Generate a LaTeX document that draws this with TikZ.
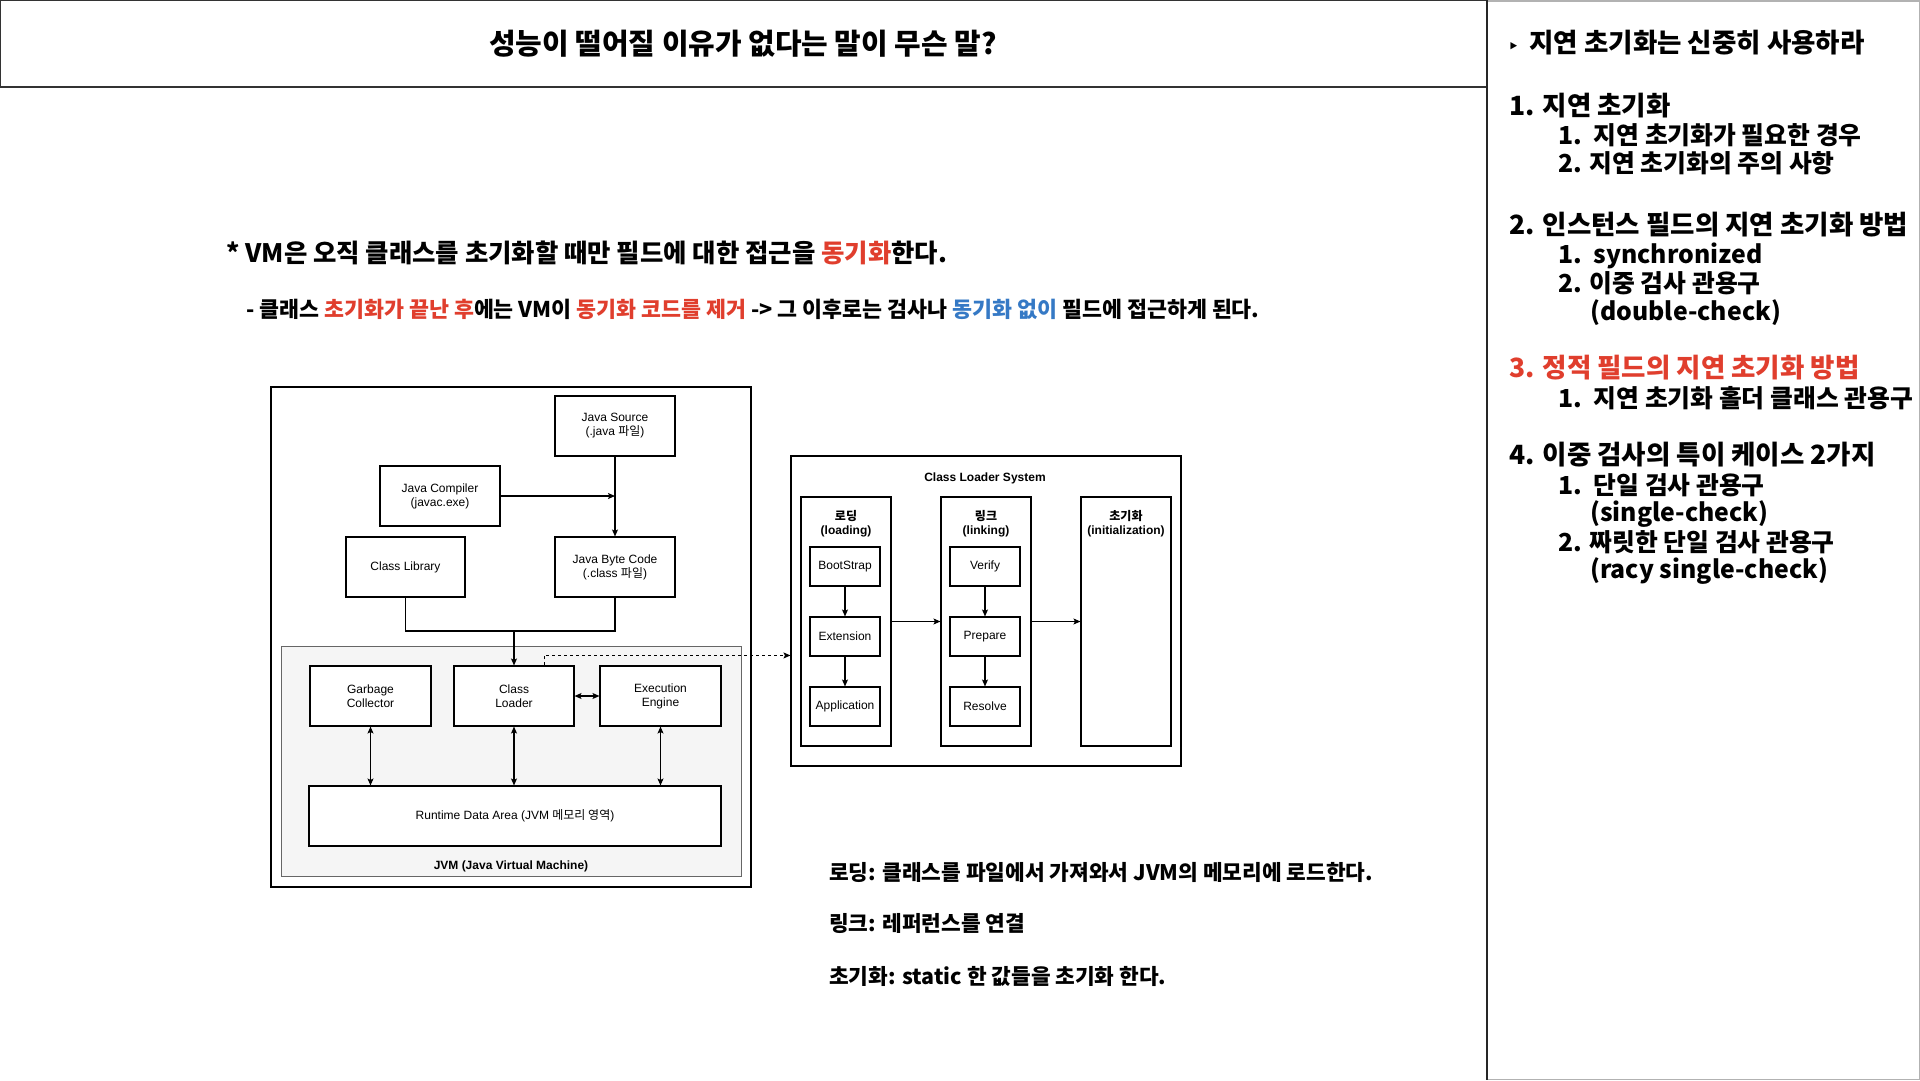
\documentclass[tikz,border=0pt]{standalone}
\usepackage{fontspec}
\setmainfont{Liberation Sans}
\newfontfamily\kr{Noto Sans CJK KR}
\newfontfamily\djv{DejaVu Sans}
\usetikzlibrary{arrows.meta,calc}
\newcommand\kor[1]{{\kr #1}}
\definecolor{redtxt}{RGB}{224,62,45}
\definecolor{bluetxt}{RGB}{53,121,197}
\definecolor{jvmfill}{RGB}{245,245,245}
\definecolor{jvmdraw}{RGB}{102,102,102}
\begin{document}
\begin{tikzpicture}[x=1pt,y=-1pt,
  tip/.style={-{Stealth[length=7pt,width=6pt,inset=1.5pt]}},
  bitip/.style={{Stealth[length=7pt,width=6pt,inset=1.5pt]}-{Stealth[length=7pt,width=6pt,inset=1.5pt]}},
  conn/.style={line width=1.1pt,black},
  box/.style={draw,line width=1.1pt,fill=white,inner sep=0pt,align=center,font=\fontsize{12}{14}\selectfont},
  frame/.style={draw,line width=1.1pt,inner sep=0pt},
  blabel/.style={inner sep=0pt,align=center,font=\bfseries\fontsize{12}{14}\selectfont},
  kbig/.style={inner sep=0pt,anchor=west,font=\kr\bfseries\fontsize{26.5}{31}\selectfont},
  ksub/.style={inner sep=0pt,anchor=west,font=\kr\bfseries\fontsize{24.8}{29}\selectfont},
  kmid/.style={inner sep=0pt,anchor=west,font=\kr\bfseries\fontsize{21.4}{26}\selectfont}
]
\useasboundingbox (0,0) rectangle (1920,1080);
\fill[white] (0,0) rectangle (1920,1080);

% title box and right panel
\node[draw=black!80,line width=1.5pt,minimum width=1487pt,minimum height=87pt,inner sep=0pt] (titlebox) at (743.5,43.5) {};
\node[font=\kr\bfseries\fontsize{28.9}{34}\selectfont,inner sep=0pt] (title) at (743,44) {성능이 떨어질 이유가 없다는 말이 무슨 말?};
\draw[black!30,line width=1.5pt] (1487,0.75) -- (1919.25,0.75) -- (1919.25,1079.25) -- (1487,1079.25);
\draw[black!85,line width=1.5pt] (1487,0) -- (1487,1080);

% explanation lines
\node[inner sep=0pt,anchor=west,font=\kr\bfseries\fontsize{25.4}{30}\selectfont] (l1) at (226,253) {* VM은 오직 클래스를 초기화할 때만 필드에 대한 접근을 \textcolor{redtxt}{동기화}한다.};
\node[inner sep=0pt,anchor=west,font=\kr\bfseries\fontsize{21.7}{26}\selectfont] (l2) at (246,309) {- 클래스 \textcolor{redtxt}{초기화가 끝난 후}에는 VM이 \textcolor{redtxt}{동기화 코드를 제거} -> 그 이후로는 검사나 \textcolor{bluetxt}{동기화 없이} 필드에 접근하게 된다.};

% left diagram
\node[frame,minimum width=480pt,minimum height=500pt] (outer) at (511,637) {};
\node[box] (src) at (615,426) [minimum width=120pt,minimum height=60pt] {Java Source\\(.java \kor{파일})};
\node[box] (comp) at (440,496) [minimum width=120pt,minimum height=60pt] {Java Compiler\\(javac.exe)};
\node[box] (lib) at (405.5,567) [minimum width=119pt,minimum height=60pt] {Class Library};
\node[box] (byte) at (615,567) [minimum width=120pt,minimum height=60pt] {Java Byte Code\\(.class \kor{파일})};

\node[draw=jvmdraw,fill=jvmfill,line width=1pt,minimum width=460pt,minimum height=230pt,inner sep=0pt] (jvm) at (511,761) {};
\node[blabel] (jvmlabel) at (511,866) {JVM (Java Virtual Machine)};
\node[box] (gc) at (370.5,696) [minimum width=121pt,minimum height=60pt] {Garbage\\Collector};
\node[box] (cl) at (514,696) [minimum width=120pt,minimum height=60pt] {Class\\Loader};
\node[box] (ee) at (660.5,696) [minimum width=121pt,minimum height=60pt] {Execution\\Engine};
\node[box] (rda) at (515,816) [minimum width=412pt,minimum height=60pt] {Runtime Data Area (JVM \kor{메모리 영역})};

\draw[conn,tip] (comp.east) -- (comp.east -| src.south);
\draw[conn,tip] (src.south) -- (byte.north);
\coordinate (join) at (cl.north |- 0,631);
\draw[conn] (lib.south) |- (join) -| (byte.south);
\draw[conn,tip] (join) -- (cl.north);
\draw[conn,bitip] (gc.south) -- (gc.south |- rda.north);
\draw[conn,bitip] (cl.south) -- (cl.south |- rda.north);
\draw[conn,bitip] (ee.south) -- (ee.south |- rda.north);
\draw[conn,bitip] (cl.east) -- (ee.west);

% class loader system
\node[frame,minimum width=390pt,minimum height=310pt] (cls) at (986,611) {};
\node[blabel] (clstitle) at (985,478) {Class Loader System};
\node[box,minimum width=90pt,minimum height=249pt] (load) at (846,621.5) {};
\node[box,minimum width=90pt,minimum height=249pt] (link) at (986,621.5) {};
\node[box,minimum width=90pt,minimum height=249pt] (init) at (1126,621.5) {};
\node[blabel] (loadlbl) at (846,524) {\kor{로딩}\\(loading)};
\node[blabel] (linklbl) at (986,524) {\kor{링크}\\(linking)};
\node[blabel] (initlbl) at (1126,524) {\kor{초기화}\\(initialization)};
\node[box,minimum width=70pt,minimum height=39pt] (bs) at (845,566.5) {BootStrap};
\node[box,minimum width=70pt,minimum height=39pt] (ext) at (845,636.5) {Extension};
\node[box,minimum width=70pt,minimum height=39pt] (app) at (845,706.5) {Application};
\node[box,minimum width=70pt,minimum height=39pt] (ver) at (985,566.5) {Verify};
\node[box,minimum width=70pt,minimum height=39pt] (prep) at (985,636.5) {Prepare};
\node[box,minimum width=70pt,minimum height=39pt] (res) at (985,706.5) {Resolve};
\draw[conn,tip] (bs.south) -- (ext.north);
\draw[conn,tip] (ext.south) -- (app.north);
\draw[conn,tip] (ver.south) -- (prep.north);
\draw[conn,tip] (prep.south) -- (res.north);
\draw[conn,tip] (load.east) -- (link.west);
\draw[conn,tip] (link.east) -- (init.west);

% dashed connector
\coordinate (dstart) at ([xshift=30pt]cl.north);
\coordinate (dk) at ([xshift=30pt,yshift=10pt]cl.north);
\draw[line width=1pt,dash pattern=on 3pt off 3pt,tip] (dstart) -- (dk) -- (dk -| cls.west);

% bottom notes
\node[kmid] (n1) at (829,872) {로딩: 클래스를 파일에서 가져와서 JVM의 메모리에 로드한다.};
\node[kmid] (n2) at (829,923) {링크: 레퍼런스를 연결};
\node[kmid] (n3) at (829,976) {초기화: static 한 값들을 초기화 한다.};

% right panel
\node[kbig] (r0) at (1508,43) {{\djv\fontsize{17}{19}\selectfont ‣}\, 지연 초기화는 신중히 사용하라};
\node[kbig] (r1) at (1509,106) {1. 지연 초기화};
\node[ksub] (r11) at (1558,135) {1.\, 지연 초기화가 필요한 경우};
\node[ksub] (r12) at (1558,163) {2. 지연 초기화의 주의 사항};
\node[kbig] (r2) at (1509,225) {2. 인스턴스 필드의 지연 초기화 방법};
\node[ksub] (r21) at (1558,256) {1.\, synchronized};
\node[ksub] (r22) at (1558,283) {2. 이중 검사 관용구};
\node[ksub] (r22b) at (1590,313) {(double-check)};
\node[kbig,text=redtxt] (r3) at (1509,368) {3. 정적 필드의 지연 초기화 방법};
\node[ksub] (r31) at (1558,398) {1.\, 지연 초기화 홀더 클래스 관용구};
\node[kbig] (r4) at (1509,455) {4. 이중 검사의 특이 케이스 2가지};
\node[ksub] (r41) at (1558,485) {1.\, 단일 검사 관용구};
\node[ksub] (r41b) at (1590,514) {(single-check)};
\node[ksub] (r42) at (1558,542) {2. 짜릿한 단일 검사 관용구};
\node[ksub] (r42b) at (1590,571) {(racy single-check)};
\end{tikzpicture}
\end{document}
